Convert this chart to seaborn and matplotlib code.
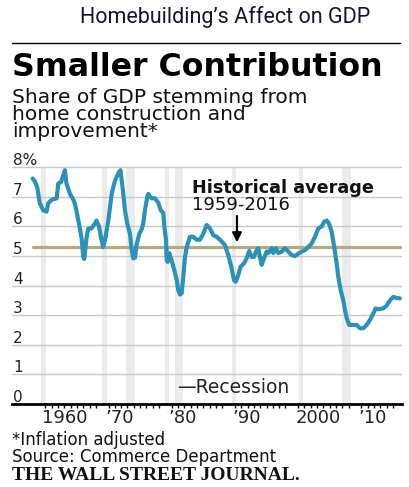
import pandas as pd
import seaborn as sns
import matplotlib.pyplot as plt

# share of GDP from home construction and improvement
years = [1959.0, 1959.4, 1959.75, 1960.1, 1960.65, 1961.2, 1961.45, 1962.0, 1962.8,
         1963.05, 1963.5, 1963.8, 1964.1, 1964.35, 1964.9, 1965.45, 1965.7, 1966.0,
         1966.5, 1966.77, 1967.0, 1967.15, 1967.55, 1967.8, 1968.3, 1968.85, 1969.1,
         1969.5, 1969.8, 1970.15, 1970.45, 1970.97, 1971.5, 1972.03, 1972.55, 1972.9,
         1973.34, 1973.6, 1973.97, 1974.4, 1974.67, 1974.92, 1975.19, 1975.46, 1975.87,
         1976.25, 1976.5, 1976.77, 1977.14, 1977.3, 1977.56, 1977.83, 1978.35, 1978.88,
         1979.26, 1979.67, 1979.83, 1980.1, 1980.2, 1980.36, 1980.62, 1981.0, 1981.25,
         1981.79, 1982.04, 1982.31, 1982.58, 1982.83, 1983.1, 1983.37, 1983.89, 1984.41,
         1984.95, 1985.47, 1985.99, 1986.53, 1987.06, 1987.58, 1988.12, 1988.64, 1989.43,
         1989.95, 1990.49, 1990.85, 1991.12, 1991.53, 1991.91, 1992.44, 1992.86, 1993.27,
         1993.65, 1994.02, 1994.34, 1994.7, 1994.97, 1995.24, 1995.6, 1996.03, 1996.28,
         1996.82, 1997.07, 1997.5, 1997.86, 1998.4, 1998.92, 1999.45, 1999.98, 2000.5,
         2001.03, 2001.57, 2002.09, 2002.61, 2003.15, 2003.67, 2004.19, 2004.73, 2005.14,
         2005.52, 2005.89, 2006.31, 2006.72, 2007.1, 2007.36, 2007.74, 2008.15, 2008.42,
         2008.69, 2009.1, 2009.73, 2010.27, 2010.79, 2011.31, 2011.85, 2012.37, 2012.9,
         2013.28, 2013.69, 2014.48, 2015.02, 2015.54, 2016.06, 2016.6, 2017.1]
share = [7.62, 7.5, 7.3, 6.8, 6.55, 6.5, 6.78, 6.9, 6.95,
         7.45, 7.5, 7.7, 7.9, 7.45, 7.1, 6.9, 6.75, 6.45,
         5.9, 5.55, 4.97, 4.9, 5.65, 5.93, 5.93, 6.1, 6.2,
         6.0, 5.65, 5.3, 5.55, 6.2, 7.1, 7.55, 7.8, 7.9,
         7.1, 6.55, 6.1, 5.75, 5.2, 4.92, 4.95, 5.4, 5.75,
         5.9, 6.1, 6.55, 7.0, 7.1, 7.0, 6.95, 6.95, 6.8,
         6.55, 6.45, 6.0, 5.55, 4.85, 4.8, 5.1, 4.85, 4.65,
         4.2, 3.85, 3.7, 3.75, 4.3, 4.97, 5.3, 5.65, 5.65,
         5.55, 5.55, 5.75, 6.05, 5.93, 5.7, 5.65, 5.55, 5.37,
         5.03, 4.58, 4.19, 4.13, 4.36, 4.64, 4.75, 4.92, 5.17,
         4.97, 4.97, 5.15, 5.26, 4.97, 4.7, 4.92, 5.15, 5.1,
         5.26, 5.1, 5.26, 5.1, 5.15, 5.26, 5.15, 5.03, 5.0,
         5.08, 5.15, 5.2, 5.3, 5.43, 5.65, 5.93, 6.0, 6.16,
         6.2, 6.1, 5.82, 5.3, 4.75, 4.3, 3.85, 3.5, 3.18,
         2.9, 2.67, 2.67, 2.67, 2.56, 2.56, 2.67, 2.84, 3.06,
         3.23, 3.2, 3.23, 3.33, 3.5, 3.62, 3.58, 3.57]

avg_value = 5.3
avg_span = [1959.0, 2017.1]

# NBER recessions
rec_start = [1960.25, 1969.92, 1973.83, 1980.0, 1981.5, 1990.5, 2001.17, 2007.92]
rec_end = [1961.08, 1970.83, 1975.17, 1980.5, 1982.83, 1991.17, 2001.83, 2009.42]

decades = [1960, 1970, 1980, 1990, 2000, 2010]
decade_labels = ["1960", "\u201970", "\u201980", "\u201990", "2000", "\u201910"]
y_ticks = [0, 1, 2, 3, 4, 5, 6, 7, 8]
y_labels = ["0", "1", "2", "3", "4", "5", "6", "7", "8%"]

df = pd.DataFrame({"year": years, "share": share})

sns.set_style("white")
plt.rcParams["font.family"] = ["DejaVu Sans"]

W, H = 409, 487
fig = plt.figure(figsize=(W / 100, H / 100), dpi=100)

def fy(px):
    return 1 - px / H

ylim_top = 8.15
ax = fig.add_axes([12 / W, 83 / H, 390 / W, (404 - 162.8) / H])
ax.set_xlim(1955.73, 2017.44)
ax.set_ylim(0, ylim_top)

for s, e in zip(rec_start, rec_end):
    ax.axvspan(s, e, ymin=0, ymax=8 / ylim_top, color="#ebebeb", lw=0, zorder=0)

for v in y_ticks[1:]:
    ax.axhline(v, color="#c8c8c8", lw=1, zorder=1)

ax.plot(avg_span, [avg_value, avg_value], color="#b3ab7d", lw=2.3, zorder=2)
sns.lineplot(data=df, x="year", y="share", color="#2b91b9", lw=3, ax=ax, zorder=3)

for v, lab in zip(y_ticks, y_labels):
    ax.text(1955.9, v + 0.07, lab, fontsize=11, ha="left", va="baseline", color="#222222")

for s in ["top", "left", "right"]:
    ax.spines[s].set_visible(False)
ax.spines["bottom"].set_color("black")
ax.spines["bottom"].set_linewidth(2)
ax.set_yticks([])
ax.set_xticks(decades)
ax.set_xticks([y for y in range(1961, 2017) if y % 10 != 0], minor=True)
ax.tick_params(axis="x", which="major", length=12.5, width=1.2, color="black",
               direction="out", labelbottom=False)
ax.tick_params(axis="x", which="minor", length=3, width=1, color="black",
               direction="out", bottom=True)
ax.set_xlabel("")
ax.set_ylabel("")

xt = ax.get_xaxis_transform()
for d, lab in zip(decades, decade_labels):
    ax.text(d + 0.55, -19 / 241.2, lab, transform=xt, fontsize=13, ha="left",
            va="baseline", color="#222222")

# annotation for the average line
ax.text(1984.2, 7.12, "Historical average", fontsize=12.7, fontweight="bold",
        ha="left", va="baseline", color="#111111")
ax.text(1984.2, 6.55, "1959-2016", fontsize=13, ha="left", va="baseline",
        color="#111111")
ax.annotate("", xy=(1991.33, 5.37), xytext=(1991.33, 6.45),
            arrowprops=dict(arrowstyle="-|>", color="black", lw=1.5, mutation_scale=14))
ax.text(1981.8, 0.37, "\u2014Recession", fontsize=13.5, ha="left", va="baseline",
        color="#222222")

# headings
fig.text(80 / W, fy(23.3), "Homebuilding\u2019s Affect on GDP", fontsize=15.5,
         family=["Roboto", "DejaVu Sans"], fontweight="normal", color="#15152a",
         ha="left", va="baseline")
fig.add_artist(plt.Line2D([12 / W, 400 / W], [fy(43.3), fy(43.3)], color="black", lw=1))
fig.text(12 / W, fy(76), "Smaller Contribution", fontsize=22.8, fontweight="heavy",
         ha="left", va="baseline", color="black")
fig.text(12 / W, fy(88), "Share of GDP stemming from\nhome construction and\nimprovement*",
         fontsize=14.5, linespacing=0.86, ha="left", va="top", color="#111111")

# footer
fig.text(12 / W, fy(445), "*Inflation adjusted", fontsize=12, ha="left",
         va="baseline", color="#111111")
fig.text(12 / W, fy(462), "Source: Commerce Department", fontsize=12, ha="left",
         va="baseline", color="#111111")
fig.text(12 / W, fy(480), "THE WALL STREET JOURNAL.", fontsize=14, fontweight="bold",
         family=["Liberation Serif", "DejaVu Serif"], ha="left", va="baseline",
         color="#111111")

fig.savefig("out.png", dpi=100)
